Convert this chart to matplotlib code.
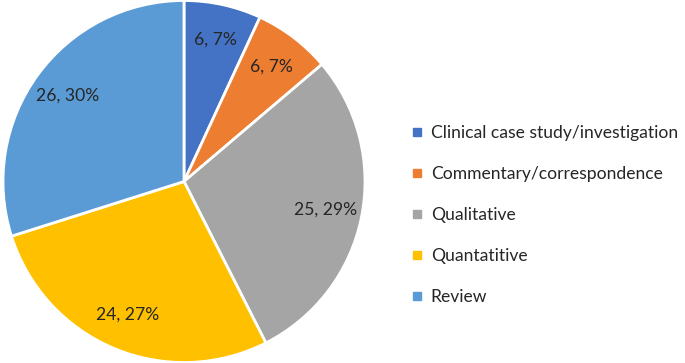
import matplotlib
matplotlib.use("Agg")
import matplotlib.pyplot as plt
from matplotlib.lines import Line2D

categories = ["Clinical case study/investigation", "Commentary/correspondence",
              "Qualitative", "Quantatitive", "Review"]
values = [6, 6, 25, 24, 26]
pct_labels = ["7%", "7%", "29%", "27%", "30%"]
colors = ["#4472C4", "#ED7D31", "#A5A5A5", "#FFC000", "#5B9BD5"]

plt.rcParams['font.family'] = ['Lato', 'DejaVu Sans']

fig = plt.figure(figsize=(6.85, 3.63), dpi=100)
ax = fig.add_axes([3/685, 0.0, 362/685, 1.0])
labels = [f"{v}, {p}" for v, p in zip(values, pct_labels)]
wedges, texts = ax.pie(values, colors=colors, startangle=90, counterclock=False,
                       labels=labels, labeldistance=0.8,
                       wedgeprops=dict(edgecolor="white", linewidth=2),
                       textprops=dict(fontsize=12.6, color="#262626"))
for t in texts:
    t.set_horizontalalignment("center")
    t.set_verticalalignment("center")
ax.set_aspect("equal")
ax.set_xlim(-1.0, 1.0)
ax.set_ylim(-1.0, 1.0)

handles = [Line2D([], [], marker="s", linestyle="none", markersize=5.5,
                  markerfacecolor=c, markeredgecolor=c) for c in colors]
fig.legend(handles, categories, loc="center left", bbox_to_anchor=(408/685, 0.408),
           frameon=False, fontsize=12.6, labelspacing=1.43, handletextpad=0.3,
           handlelength=1.0, borderpad=0, borderaxespad=0, labelcolor="#262626")
fig.savefig("out.png", dpi=100)
